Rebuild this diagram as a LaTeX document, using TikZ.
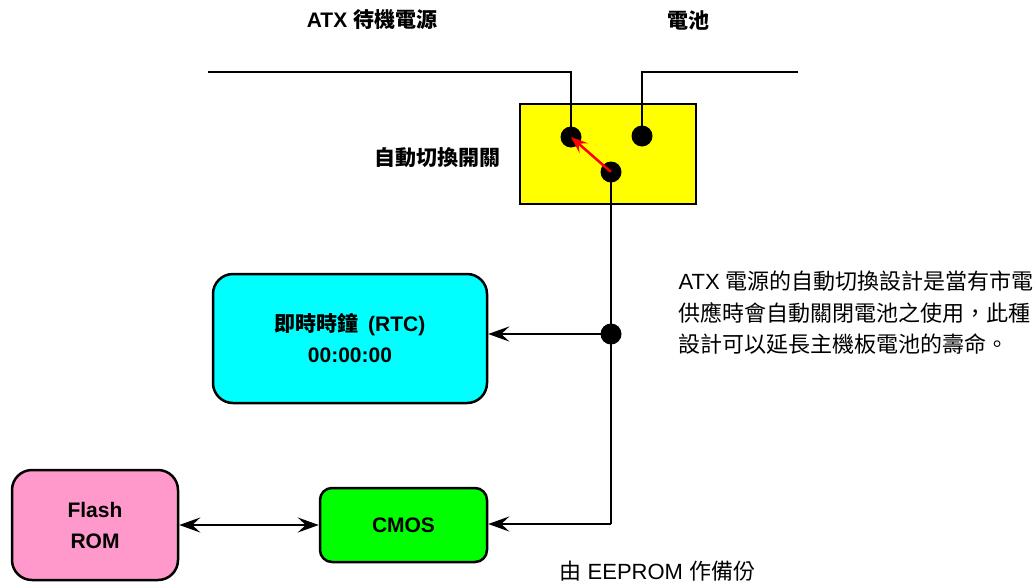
\documentclass[tikz,border=0pt]{standalone}
\usepackage{fontspec}
\setmainfont{Liberation Sans}
\newfontfamily\cjk{Noto Sans CJK TC}
\usetikzlibrary{arrows.meta}
\definecolor{boxyellow}{RGB}{255,255,0}
\definecolor{boxcyan}{RGB}{0,255,255}
\definecolor{boxpink}{RGB}{255,153,204}
\definecolor{boxgreen}{RGB}{0,255,0}
\tikzset{
	box node/.style={draw, line width=2.5pt, inner sep=0pt, align=center, font=\fontsize{21}{31}\selectfont\bfseries},
	yellow node/.style={box node, fill=boxyellow, minimum width=176pt, minimum height=100pt},
	cyan node/.style={box node, fill=boxcyan, rounded corners=20pt, minimum width=274pt, minimum height=129pt},
	pink node/.style={box node, fill=boxpink, rounded corners=20pt, minimum width=166pt, minimum height=110pt},
	green node/.style={box node, fill=boxgreen, rounded corners=12pt, minimum width=167pt, minimum height=74pt},
	dot node/.style={circle, fill=black, inner sep=0pt, minimum size=21pt},
	bold label/.style={font=\fontsize{21}{31}\selectfont\bfseries},
	wire/.style={line width=2.8pt},
	barb/.tip={Stealth[length=21pt, width=15pt, inset=8pt]},
}

\begin{document}
\begin{tikzpicture}[x=1pt, y=-1pt, every node/.append style={font=\fontsize{22}{31.5}\selectfont}]
  \useasboundingbox (0,0) rectangle (1036,584);

  \node(t1)[bold label] at (372,20) {ATX {\cjk 待機電源}};
  \node(t2)[bold label] at (688,20) {\cjk 電池};

  \node(sw)[yellow node] at (608,154) {};
  \node(swl)[bold label, anchor=east] at (504,158) {\cjk 自動切換開關};

  \coordinate(a1) at (208,72);
  \coordinate(a2) at (571,72);
  \coordinate(b1) at (798,72);
  \coordinate(b2) at (642,72);
  \node(p1)[dot node] at (571,137) {};
  \node(p2)[dot node] at (642,136) {};
  \node(p3)[dot node] at (611,172) {};
  \node(j1)[dot node] at (611,334) {};
  \coordinate(c1) at (611,524);

  \draw[wire] (a1) -- (a2) -- (p1.center);
  \draw[wire] (b1) -- (b2) -- (p2.center);
  \draw[red, line width=2.5pt, -{Stealth[length=17pt, width=13pt, inset=7pt]}] (p3.center) -- (p1.center);

  \node(rtc)[cyan node] at (350,338.5) {{\cjk 即時時鐘}\hspace{0.45em}(RTC)\\00:00:00};
  \node(rom)[pink node] at (95,525) {Flash\\ROM};
  \node(cmos)[green node] at (403.5,525) {CMOS};

  \draw[wire] (p3.center) -- (j1.center) -- (c1);
  \draw[wire, -barb] (c1) -- (c1 -| cmos.east);
  \draw[wire, -barb] (j1.center) -- (j1.center -| rtc.east);
  \draw[wire, barb-barb] (rom.east |- cmos.west) -- (cmos.west);

  \node(note)[anchor=west, align=left] at (675,313) {ATX {\cjk 電源的自動切換設計是當有市電}\\{\cjk 供應時會自動關閉電池之使用，此種}\\{\cjk 設計可以延長主機板電池的壽命。}};
  \node(bak)[anchor=west] at (556,571) {{\cjk 由} EEPROM {\cjk 作備份}};

\end{tikzpicture}
\end{document}
